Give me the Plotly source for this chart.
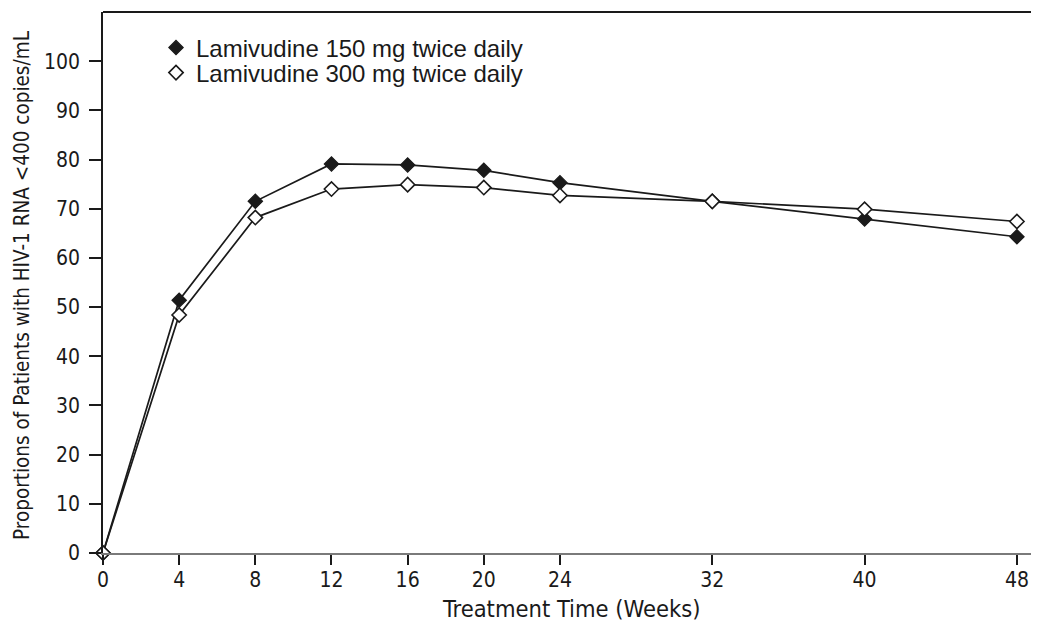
import plotly.graph_objects as go

weeks = [0, 4, 8, 12, 16, 20, 24, 32, 40, 48]
lam150 = [0, 51.4, 71.5, 79.1, 78.9, 77.8, 75.3, 71.5, 67.9, 64.3]
lam300 = [0, 48.4, 68.2, 74.0, 74.9, 74.3, 72.7, 71.5, 69.9, 67.4]
name150 = "Lamivudine 150 mg twice daily"
name300 = "Lamivudine 300 mg twice daily"
xticks = [0, 4, 8, 12, 16, 20, 24, 32, 40, 48]
yticks = [0, 10, 20, 30, 40, 50, 60, 70, 80, 90, 100]
x_title = "Treatment Time (Weeks)"
y_title = "Proportions of Patients with HIV-1 RNA <400 copies/mL"

INK = "#1a1a1a"
NARROW = "Liberation Sans Narrow, DejaVu Sans Condensed, Arial Narrow, sans-serif"
REG = "Liberation Sans, Arial, Helvetica, sans-serif"

MSIZE = 11
filled = dict(symbol="diamond", size=MSIZE, color=INK, line=dict(color=INK, width=1.2))
hollow = dict(symbol="diamond", size=MSIZE, color="white", line=dict(color=INK, width=1.6))

fig = go.Figure()
fig.add_trace(go.Scatter(x=weeks, y=lam150, mode="lines+markers", showlegend=False,
                         line=dict(color=INK, width=1.7), marker=filled, cliponaxis=False))
fig.add_trace(go.Scatter(x=weeks, y=lam300, mode="lines+markers", showlegend=False,
                         line=dict(color=INK, width=1.7), marker=hollow, cliponaxis=False))
# legend-only entries (markers only), one legend per row for exact placement
fig.add_trace(go.Scatter(x=[None], y=[None], mode="markers", name=name150,
                         marker=filled, legend="legend"))
fig.add_trace(go.Scatter(x=[None], y=[None], mode="markers", name=name300,
                         marker=hollow, legend="legend2"))

PLOT_W = 928
leg_common = dict(xanchor="left", yanchor="middle", bgcolor="rgba(0,0,0,0)",
                  font=dict(family=REG, size=24, color=INK), itemwidth=30, borderwidth=0)
LEGX = (156 - 103) / PLOT_W

fig.update_layout(
    width=1023, height=616,
    margin=dict(l=95, r=0, t=4, b=71),
    plot_bgcolor="white", paper_bgcolor="white",
    showlegend=True,
    legend=dict(x=LEGX, y=1 - (48 - 12) / 541, **leg_common),
    legend2=dict(x=LEGX, y=1 - (73 - 12) / 541, **leg_common),
    xaxis=dict(range=[0, 48.74], tickvals=xticks, ticktext=[str(t) for t in xticks],
               showgrid=False, zeroline=False, showline=True, linecolor="#7a7a7a", linewidth=2,
               ticks="outside", ticklen=10, tickwidth=1.6, tickcolor=INK,
               tickfont=dict(family=NARROW, size=21, color=INK), ticklabelstandoff=-3,
               automargin=False, title=None),
    yaxis=dict(range=[0, 110], tickvals=yticks,
               showgrid=False, zeroline=False, showline=True, linecolor=INK, linewidth=1.6,
               ticks="outside", ticklen=12, tickwidth=1.6, tickcolor=INK,
               tickfont=dict(family=NARROW, size=21, color=INK), ticklabelstandoff=5,
               automargin=False, title=None),
)
fig.add_shape(type="line", xref="paper", yref="paper", x0=0, x1=1, y0=1, y1=1,
              line=dict(color=INK, width=2))
fig.add_annotation(text=x_title, xref="paper", yref="paper",
                   x=(571 - 103) / PLOT_W, y=0, yshift=-56, xanchor="center", yanchor="middle",
                   showarrow=False, font=dict(family=NARROW, size=23.5, color=INK))
fig.add_annotation(text=y_title, xref="paper", yref="paper", textangle=-90,
                   x=(22 - 103) / PLOT_W, y=1 - (285 - 12) / 541, xanchor="center", yanchor="middle",
                   showarrow=False, font=dict(family=NARROW, size=20.5, color=INK))

fig.write_html("out.html")
